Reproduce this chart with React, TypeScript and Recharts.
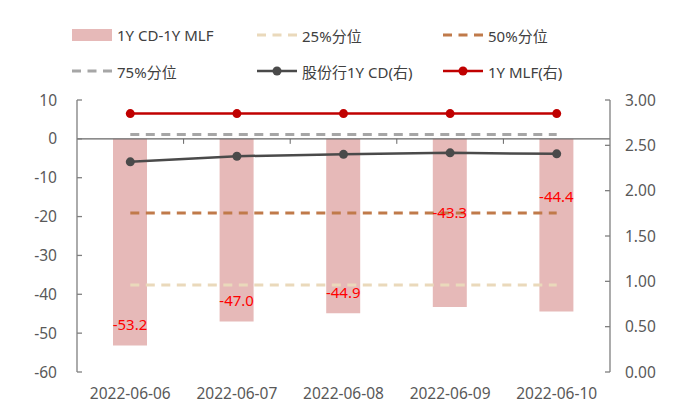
import React from 'react'
import {
  ComposedChart,
  Bar,
  Line,
  XAxis,
  YAxis,
  ReferenceLine,
  LabelList,
} from 'recharts'

const dates = ['2022-06-06', '2022-06-07', '2022-06-08', '2022-06-09', '2022-06-10']
const spread = [-53.2, -47.0, -44.9, -43.3, -44.4]
const p25 = [-37.6, -37.6, -37.6, -37.6, -37.6]
const p50 = [-19.1, -19.1, -19.1, -19.1, -19.1]
const p75 = [1.1, 1.1, 1.1, 1.1, 1.1]
const cd1y = [2.318, 2.38, 2.401, 2.417, 2.406]
const mlf1y = [2.85, 2.85, 2.85, 2.85, 2.85]

const leftTicks = [-60, -50, -40, -30, -20, -10, 0, 10]
const rightTicks = [0, 0.5, 1, 1.5, 2, 2.5, 3]

// how far above the bar bottom each value label sits (px), as placed in the source
const labelLift = [22, 21, 21, 95, 115]

const data = dates.map((date, i) => ({
  date,
  spread: spread[i],
  p25: p25[i],
  p50: p50[i],
  p75: p75[i],
  cd: cd1y[i],
  mlf: mlf1y[i],
}))

const FONT = '"Noto Sans", "Noto Sans CJK SC", sans-serif'
const TICK_COLOR = '#595959'
const AXIS_COLOR = '#7f7f7f'
const TICK_FONT = 15.5

const COLORS = {
  bar: '#e6b9b8',
  p25: '#ead9bb',
  p50: '#c07a4a',
  p75: '#a6a6a6',
  cd: '#4a4a4a',
  mlf: '#c00000',
}

function ZeroLine(props: any) {
  const { x1, x2, y1 } = props
  const step = (x2 - x1) / dates.length
  return (
    <g>
      <line x1={x1} x2={x2} y1={y1} y2={y1} stroke="#666" strokeWidth={1.3} />
      {dates.slice(1).map((_, i) => (
        <line
          key={i}
          x1={x1 + step * (i + 1)}
          x2={x1 + step * (i + 1)}
          y1={y1}
          y2={y1 + 5}
          stroke="#666"
          strokeWidth={1}
        />
      ))}
    </g>
  )
}

function BarLabel(props: any) {
  const { x, y, width, height, value, index } = props
  const bottom = Math.max(y, y + height)
  return (
    <text
      x={x + width / 2}
      y={bottom - labelLift[index]}
      textAnchor="middle"
      dominantBaseline="central"
      fill="#ff0000"
      fontSize={15}
      fontFamily={FONT}
    >
      {Number(value).toFixed(1)}
    </text>
  )
}

type LegendItem = { name: string; kind: 'bar' | 'dash' | 'dot'; color: string }

const legendRows: LegendItem[][] = [
  [
    { name: '1Y CD-1Y MLF', kind: 'bar', color: COLORS.bar },
    { name: '25%分位', kind: 'dash', color: COLORS.p25 },
    { name: '50%分位', kind: 'dash', color: COLORS.p50 },
  ],
  [
    { name: '75%分位', kind: 'dash', color: COLORS.p75 },
    { name: '股份行1Y CD(右)', kind: 'dot', color: COLORS.cd },
    { name: '1Y MLF(右)', kind: 'dot', color: COLORS.mlf },
  ],
]

const legendCols = [64, 249, 435]
const legendRowsY = [27, 63]

function LegendIcon({ item }: { item: LegendItem }) {
  return (
    <svg width={40} height={14} style={{ display: 'block' }}>
      {item.kind === 'bar' && <rect x={0} y={1} width={40} height={12} fill={item.color} />}
      {item.kind === 'dash' && (
        <line x1={0} x2={40} y1={7} y2={7} stroke={item.color} strokeWidth={3} strokeDasharray="9 6.5" />
      )}
      {item.kind === 'dot' && (
        <g>
          <line x1={0} x2={40} y1={7} y2={7} stroke={item.color} strokeWidth={2.5} />
          <circle cx={20} cy={7} r={4.5} fill={item.color} />
        </g>
      )}
    </svg>
  )
}

function ChartLegend() {
  return (
    <>
      {legendRows.map((row, r) =>
        row.map((item, c) => (
          <div
            key={`${r}-${c}`}
            style={{
              position: 'absolute',
              left: legendCols[c],
              top: legendRowsY[r] - 10,
              height: 20,
              display: 'flex',
              alignItems: 'center',
              gap: 5,
              fontSize: 15,
              color: '#404040',
              whiteSpace: 'nowrap',
            }}
          >
            <LegendIcon item={item} />
            <span>{item.name}</span>
          </div>
        ))
      )}
    </>
  )
}

export default function App() {
  return (
    <div style={{ position: 'relative', width: 665, height: 395, fontFamily: FONT, background: '#fff' }}>
      <ChartLegend />
      <ComposedChart
        width={665}
        height={395}
        data={data}
        margin={{ top: 92, right: 13, bottom: 1, left: 0 }}
      >
        <XAxis
          dataKey="date"
          axisLine={false}
          tickLine={false}
          height={30}
          tickMargin={10}
          tick={{ fill: TICK_COLOR, fontSize: TICK_FONT }}
          interval={0}
        />
        <YAxis
          yAxisId="left"
          width={69}
          domain={[-60, 10]}
          ticks={leftTicks}
          interval={0}
          allowDataOverflow
          axisLine={{ stroke: AXIS_COLOR, strokeWidth: 1.3 }}
          tickLine={{ stroke: AXIS_COLOR, strokeWidth: 1.3 }}
          tickSize={-5}
          tickMargin={25}
          tick={{ fill: TICK_COLOR, fontSize: TICK_FONT }}
        />
        <YAxis
          yAxisId="right"
          orientation="right"
          width={50}
          domain={[0, 3]}
          ticks={rightTicks}
          interval={0}
          allowDataOverflow
          tickFormatter={(v: number) => v.toFixed(2)}
          axisLine={{ stroke: AXIS_COLOR, strokeWidth: 1.3 }}
          tickLine={{ stroke: AXIS_COLOR, strokeWidth: 1.3 }}
          tickSize={-5}
          tickMargin={20}
          tick={{ fill: TICK_COLOR, fontSize: TICK_FONT }}
        />
        <Bar yAxisId="left" dataKey="spread" fill={COLORS.bar} barSize={34} isAnimationActive={false}>
          <LabelList dataKey="spread" content={BarLabel} />
        </Bar>
        <ReferenceLine yAxisId="left" y={0} shape={ZeroLine} />
        <Line
          yAxisId="left"
          dataKey="p25"
          stroke={COLORS.p25}
          strokeWidth={3}
          strokeDasharray="9 6.5"
          dot={false}
          isAnimationActive={false}
        />
        <Line
          yAxisId="left"
          dataKey="p50"
          stroke={COLORS.p50}
          strokeWidth={3}
          strokeDasharray="9 6.5"
          dot={false}
          isAnimationActive={false}
        />
        <Line
          yAxisId="left"
          dataKey="p75"
          stroke={COLORS.p75}
          strokeWidth={3}
          strokeDasharray="9 6.5"
          dot={false}
          isAnimationActive={false}
        />
        <Line
          yAxisId="right"
          dataKey="cd"
          stroke={COLORS.cd}
          strokeWidth={2.5}
          dot={{ r: 4.5, fill: COLORS.cd, stroke: COLORS.cd, strokeWidth: 0 }}
          isAnimationActive={false}
        />
        <Line
          yAxisId="right"
          dataKey="mlf"
          stroke={COLORS.mlf}
          strokeWidth={2.5}
          dot={{ r: 4.5, fill: COLORS.mlf, stroke: COLORS.mlf, strokeWidth: 0 }}
          isAnimationActive={false}
        />
      </ComposedChart>
    </div>
  )
}
